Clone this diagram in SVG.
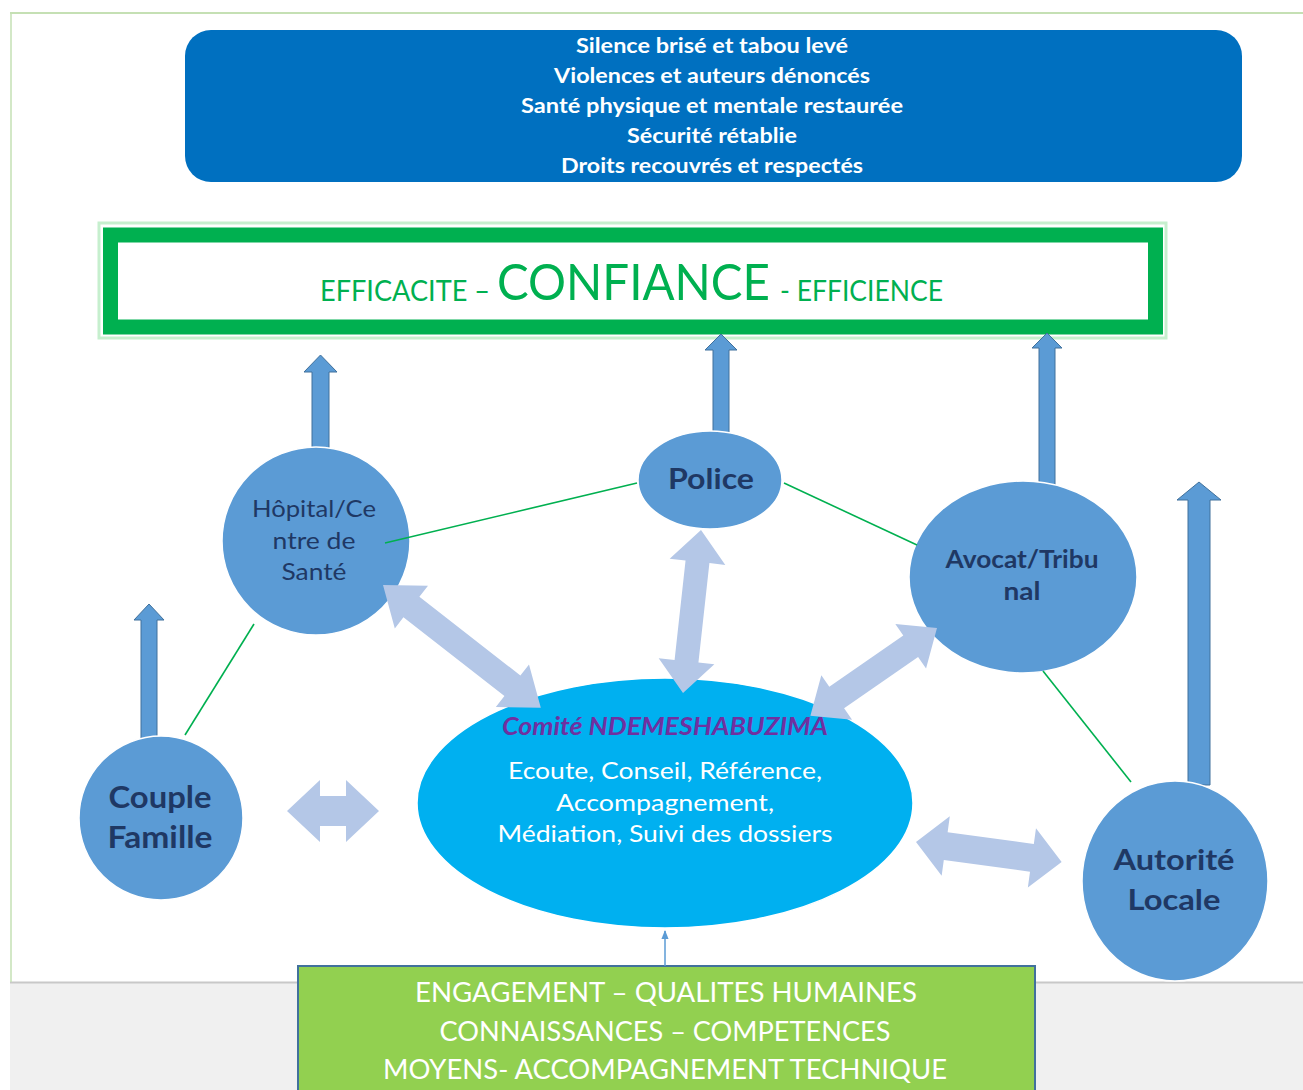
<svg xmlns="http://www.w3.org/2000/svg" width="1303" height="1090" viewBox="0 0 1303 1090">
<defs>
<style>
.node{fill:#5B9BD5;stroke:#ffffff;stroke-width:1.5}
.nt{font-family:"Lato","Open Sans","Liberation Sans",sans-serif;fill:#1F3864;text-anchor:middle}
.b{font-weight:bold}
.up{fill:#5B9BD5;stroke:#41719C;stroke-width:1}
.dbl{fill:#B4C7E7}
.gl{stroke:#00B050;stroke-width:1.6;fill:none}
.wt{font-family:"Lato","Open Sans","Liberation Sans",sans-serif;fill:#ffffff;text-anchor:middle}
.gt{font-family:"Lato","Open Sans","Liberation Sans",sans-serif;fill:#00B050}
</style>
<marker id="ah" viewBox="0 0 10 10" refX="9" refY="5" markerWidth="6" markerHeight="6" orient="auto">
<path d="M0,1 L10,5 L0,9 z" fill="#5B9BD5"/>
</marker>
</defs>
<rect x="0" y="0" width="1303" height="1090" fill="#ffffff"/>
<rect x="10" y="982" width="1293" height="108" fill="#f0f0f0"/>
<line x1="10" y1="982.5" x2="1303" y2="982.5" stroke="#c8c8c8" stroke-width="2"/>
<line x1="10" y1="13" x2="1303" y2="13" stroke="#c5e0b4" stroke-width="2"/>
<line x1="11" y1="13" x2="11" y2="982" stroke="#c5e0b4" stroke-width="1.5"/>

<g id="resultats">
<rect x="185" y="30" width="1057" height="152" rx="26" fill="#0070C0"/>
<text class="wt b" font-size="21" x="712" y="53" textLength="272" lengthAdjust="spacingAndGlyphs">Silence brisé et tabou levé</text>
<text class="wt b" font-size="21" x="712" y="83" textLength="316" lengthAdjust="spacingAndGlyphs">Violences et auteurs dénoncés</text>
<text class="wt b" font-size="21" x="712" y="113" textLength="382" lengthAdjust="spacingAndGlyphs">Santé physique et mentale restaurée</text>
<text class="wt b" font-size="21" x="712" y="143" textLength="170" lengthAdjust="spacingAndGlyphs">Sécurité rétablie</text>
<text class="wt b" font-size="21" x="712" y="173" textLength="302" lengthAdjust="spacingAndGlyphs">Droits recouvrés et respectés</text>
</g>

<g id="confiance">
<rect x="99" y="223" width="1067" height="115" fill="none" stroke="#c6efce" stroke-width="3"/>
<rect x="110.5" y="235" width="1045" height="92" fill="#ffffff" stroke="#00B050" stroke-width="15"/>
<text class="gt" font-size="28" x="320" y="301" textLength="170" lengthAdjust="spacingAndGlyphs">EFFICACITE –</text>
<text class="gt" font-size="50" x="497" y="300" textLength="273" lengthAdjust="spacingAndGlyphs">CONFIANCE</text>
<text class="gt" font-size="28" x="780" y="301" textLength="163" lengthAdjust="spacingAndGlyphs">- EFFICIENCE</text>
</g>

<g id="up-arrows">
<polygon class="up" points="320.5,355 337,372 329,372 329,455 312,455 312,372 304,372"/>
<polygon class="up" points="721,334 737,350 729,350 729,434 713,434 713,350 705,350"/>
<polygon class="up" points="1047,333 1062,348 1055,348 1055,485 1039,485 1039,348 1032,348"/>
<polygon class="up" points="149,604 164,620 157,620 157,739 141,739 141,620 134,620"/>
<polygon class="up" points="1199,482 1221,500 1210,500 1210,785 1188,785 1188,500 1177,500"/>
</g>

<g id="hopital">
<circle class="node" cx="316" cy="541" r="94"/>
<text class="nt" font-size="24" x="314" y="517" textLength="124" lengthAdjust="spacingAndGlyphs">Hôpital/Ce</text>
<text class="nt" font-size="24" x="314" y="549" textLength="83" lengthAdjust="spacingAndGlyphs">ntre de</text>
<text class="nt" font-size="24" x="314" y="580" textLength="65" lengthAdjust="spacingAndGlyphs">Santé</text>
</g>
<g id="police">
<ellipse class="node" cx="710" cy="480" rx="72" ry="49"/>
<text class="nt b" font-size="28" x="711" y="489" textLength="86" lengthAdjust="spacingAndGlyphs">Police</text>
</g>
<g id="avocat">
<ellipse class="node" cx="1023" cy="577" rx="114" ry="96"/>
<text class="nt b" font-size="24" x="1022" y="568" textLength="153" lengthAdjust="spacingAndGlyphs">Avocat/Tribu</text>
<text class="nt b" font-size="24" x="1022" y="600" textLength="37" lengthAdjust="spacingAndGlyphs">nal</text>
</g>
<g id="couple">
<circle class="node" cx="161" cy="818" r="82"/>
<text class="nt b" font-size="30" x="160" y="808" textLength="103" lengthAdjust="spacingAndGlyphs">Couple</text>
<text class="nt b" font-size="30" x="160" y="848" textLength="105" lengthAdjust="spacingAndGlyphs">Famille</text>
</g>
<g id="autorite">
<ellipse class="node" cx="1175" cy="881" rx="93" ry="100"/>
<text class="nt b" font-size="29" x="1174" y="870" textLength="121" lengthAdjust="spacingAndGlyphs">Autorité</text>
<text class="nt b" font-size="29" x="1174" y="910" textLength="93" lengthAdjust="spacingAndGlyphs">Locale</text>
</g>
<g id="comite">
<ellipse cx="665" cy="803" rx="248" ry="125" fill="#00B0F0" stroke="#ffffff" stroke-width="1.5"/>
<text font-family="Lato,'Open Sans','Liberation Sans',sans-serif" font-size="24" font-style="italic" font-weight="bold" fill="#7030A0" text-anchor="middle" x="665" y="735" textLength="326" lengthAdjust="spacingAndGlyphs">Comité NDEMESHABUZIMA</text>
<text class="wt" font-size="24" x="665" y="779" textLength="314" lengthAdjust="spacingAndGlyphs">Ecoute, Conseil, Référence,</text>
<text class="wt" font-size="24" x="665" y="811" textLength="218" lengthAdjust="spacingAndGlyphs">Accompagnement,</text>
<text class="wt" font-size="24" x="665" y="842" textLength="335" lengthAdjust="spacingAndGlyphs">Médiation, Suivi des dossiers</text>
</g>

<g id="ressources">
<rect x="298" y="966" width="737" height="130" fill="#92D050" stroke="#41719C" stroke-width="2"/>
<text class="wt" font-size="26" x="666" y="1002" textLength="502" lengthAdjust="spacingAndGlyphs">ENGAGEMENT – QUALITES HUMAINES</text>
<text class="wt" font-size="26" x="665" y="1041" textLength="451" lengthAdjust="spacingAndGlyphs">CONNAISSANCES – COMPETENCES</text>
<text class="wt" font-size="26" x="665" y="1079" textLength="564" lengthAdjust="spacingAndGlyphs">MOYENS- ACCOMPAGNEMENT TECHNIQUE</text>
</g>

<g id="connectors">
<line class="gl" x1="385" y1="543" x2="637" y2="483"/>
<line class="gl" x1="784" y1="483" x2="917" y2="545"/>
<line class="gl" x1="254" y1="624" x2="185" y2="735"/>
<line class="gl" x1="1043" y1="671" x2="1131" y2="782"/>
<line x1="665" y1="966" x2="665" y2="931" stroke="#5B9BD5" stroke-width="1.5" marker-end="url(#ah)"/>
<polygon class="dbl" transform="translate(383,585) rotate(37.9)" points="0,0 36,-27 36,-13 164,-13 164,-27 200,0 164,27 164,13 36,13 36,27"/>
<polygon class="dbl" transform="translate(701,530) rotate(96.3)" points="0,0 32,-28 32,-12 132,-12 132,-28 164,0 132,28 132,12 32,12 32,28"/>
<polygon class="dbl" transform="translate(937,628) rotate(145.3)" points="0,0 32,-27 32,-13 122,-13 122,-27 154,0 122,27 122,13 32,13 32,27"/>
<polygon class="dbl" transform="translate(287,811) rotate(0)" points="0,0 33,-31 33,-15 59,-15 59,-31 92,0 59,31 59,15 33,15 33,31"/>
<polygon class="dbl" transform="translate(916,842) rotate(7.8)" points="0,0 30,-30 30,-14 117,-14 117,-30 147,0 117,30 117,14 30,14 30,30"/>
</g>
</svg>
